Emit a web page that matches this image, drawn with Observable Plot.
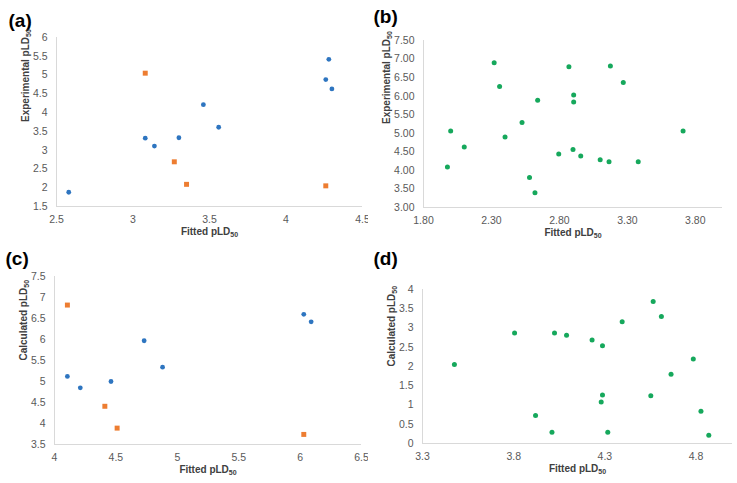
<!DOCTYPE html>
<html>
<head>
<meta charset="utf-8">
<script src="https://cdn.jsdelivr.net/npm/d3@7"></script>
<script src="https://cdn.jsdelivr.net/npm/@observablehq/plot@0.6"></script>
<style>
  html, body { margin: 0; padding: 0; background: #fff; }
  #wrap { position: relative; width: 737px; height: 483px; background: #fff; overflow: hidden; }
  #wrap > svg { position: absolute; }
</style>
</head>
<body>
<div id="wrap"></div>
<script>
// ---------- Panel (a) ----------
const aFitBlue    = [2.58, 3.08, 3.14, 3.30, 3.46, 3.56, 4.26, 4.28, 4.30];
const aExpBlue    = [1.88, 3.32, 3.11, 3.33, 4.21, 3.61, 4.88, 5.42, 4.63];
const aFitOrange  = [3.08, 3.27, 3.35, 4.26];
const aExpOrange  = [5.05, 2.69, 2.09, 2.05];
const aXTicks = [2.5, 3, 3.5, 4, 4.5];
const aYTicks = [1.5, 2, 2.5, 3, 3.5, 4, 4.5, 5, 5.5, 6];

// ---------- Panel (b) ----------
const bFit = [2.32, 2.36, 2.40, 2.525, 2.64, 2.58, 2.62, 2.00, 1.976, 2.10, 2.795,
              2.87, 2.905, 2.905, 2.90, 2.957, 3.10, 3.165, 3.175, 3.27, 3.38, 3.71];
const bExp = [6.90, 6.26, 4.90, 5.29, 5.89, 3.81, 3.40, 5.06, 4.09, 4.63, 4.44,
              6.79, 6.03, 5.84, 4.56, 4.39, 4.29, 4.23, 6.81, 6.37, 4.23, 5.06];
const bXTicks = [1.8, 2.3, 2.8, 3.3, 3.8];
const bYTicks = [3, 3.5, 4, 4.5, 5, 5.5, 6, 6.5, 7, 7.5];

// ---------- Panel (c) ----------
const cFitBlue    = [4.105, 4.21, 4.46, 4.73, 4.88, 6.03, 6.09];
const cCalcBlue   = [5.12, 4.85, 5.00, 5.97, 5.34, 6.60, 6.42];
const cFitOrange  = [4.105, 4.41, 4.51, 6.03];
const cCalcOrange = [6.82, 4.41, 3.89, 3.74];
const cXTicks = [4, 4.5, 5, 5.5, 6, 6.5];
const cYTicks = [3.5, 4, 4.5, 5, 5.5, 6, 6.5, 7, 7.5];

// ---------- Panel (d) ----------
const dFit  = [3.475, 3.805, 3.92, 4.01, 4.024, 4.09, 4.23, 4.287, 4.287, 4.28,
               4.316, 4.395, 4.552, 4.565, 4.61, 4.663, 4.785, 4.827, 4.87];
const dCalc = [2.05, 2.87, 0.73, 0.295, 2.87, 2.81, 2.69, 2.54, 1.26, 1.08,
               0.295, 3.16, 1.24, 3.69, 3.30, 1.80, 2.195, 0.84, 0.217];
const dXTicks = [3.3, 3.8, 4.3, 4.8];
const dYTicks = [0, 0.5, 1, 1.5, 2, 2.5, 3, 3.5, 4];

const panelLabels = ["(a)", "(b)", "(c)", "(d)"];
const xTitle = "Fitted pLD50";
const yTitles = ["Experimental pLD50", "Experimental pLD50", "Calculated pLD50", "Calculated pLD50"];

const FONT = "'Liberation Sans', Arial, Helvetica, sans-serif";
const BLUE = "#2e75c0", ORANGE = "#ed7d31", GREEN = "#16a85c", AXIS = "#d9d9d9";

const zip = (xs, ys) => xs.map((x, i) => ({x, y: ys[i]}));

function panel(o) {
  const marks = [
    Plot.ruleY([o.yDomain[0]], {stroke: AXIS, strokeWidth: 1}),
    Plot.ruleX([o.xDomain[0]], {stroke: AXIS, strokeWidth: 1}),
    Plot.axisX(o.xTicks, {tickSize: 0, tickPadding: 9, tickFormat: o.fmt, label: null}),
    Plot.axisY(o.yTicks, {tickSize: 0, tickPadding: 9, tickFormat: o.fmt, label: null}),
  ];
  for (const s of o.series) {
    marks.push(Plot.dot(s.data, {x: "x", y: "y", symbol: s.symbol, r: s.r, fill: s.color, stroke: null}));
  }
  marks.push(
    Plot.text([o.label], {text: d => d, frameAnchor: "top-left", textAnchor: "start", lineAnchor: "top",
      dx: o.labelPos[0] - o.m[3], dy: o.labelPos[1] - o.m[0], fontSize: 19, fontWeight: "bold", fill: "#000"}),
    Plot.text([xTitle], {text: d => d, frameAnchor: "bottom", dy: o.xTitleOff,
      fontSize: 10, fontWeight: "bold", fill: "#404040"}),
    Plot.text([o.yTitle], {text: d => d, frameAnchor: "left", rotate: -90, dx: -o.yTitleOff,
      fontSize: 10, fontWeight: "bold", fill: "#404040"})
  );
  const svg = Plot.plot({
    width: o.w, height: o.h,
    marginTop: o.m[0], marginRight: o.m[1], marginBottom: o.m[2], marginLeft: o.m[3],
    x: {domain: o.xDomain, axis: null},
    y: {domain: o.yDomain, axis: null},
    style: {fontFamily: FONT, fontSize: "10.5px", color: "#595959", background: "white", overflow: "visible"},
    marks
  });
  // subscript "50" in pLD50
  d3.select(svg).selectAll("text").each(function() {
    const t = this.textContent;
    if (t.endsWith("pLD50") && this.childElementCount === 0) {
      const base = t.slice(0, -2);
      this.textContent = "";
      d3.select(this).append("tspan").text(base);
      d3.select(this).append("tspan").attr("font-size", 7).attr("dy", 2).text("50");
    }
  });
  svg.style.left = o.left + "px";
  svg.style.top = o.top + "px";
  document.getElementById("wrap").appendChild(svg);
}

panel({
  left: 0, top: 0, w: 368, h: 240, m: [37, 6, 34, 56],
  xDomain: [2.5, 4.5], yDomain: [1.5, 6], xTicks: aXTicks, yTicks: aYTicks, fmt: d3.format(""),
  series: [
    {data: zip(aFitBlue, aExpBlue), symbol: "circle", r: 2.4, color: BLUE},
    {data: zip(aFitOrange, aExpOrange), symbol: "square", r: 2.8, color: ORANGE}
  ],
  label: panelLabels[0], labelPos: [8, 13], yTitle: yTitles[0], xTitleOff: 28, yTitleOff: 31
});

panel({
  left: 368, top: 0, w: 369, h: 240, m: [40, 15, 33, 55],
  xDomain: [1.8, 4.0], yDomain: [3, 7.5], xTicks: bXTicks, yTicks: bYTicks, fmt: d3.format(".2f"),
  series: [
    {data: zip(bFit, bExp), symbol: "circle", r: 2.5, color: GREEN}
  ],
  label: panelLabels[1], labelPos: [5, 9], yTitle: yTitles[1], xTitleOff: 28, yTitleOff: 37
});

panel({
  left: 0, top: 240, w: 368, h: 243, m: [36, 7, 39, 54],
  xDomain: [4, 6.5], yDomain: [3.5, 7.5], xTicks: cXTicks, yTicks: cYTicks, fmt: d3.format(""),
  series: [
    {data: zip(cFitBlue, cCalcBlue), symbol: "circle", r: 2.4, color: BLUE},
    {data: zip(cFitOrange, cCalcOrange), symbol: "square", r: 2.8, color: ORANGE}
  ],
  label: panelLabels[2], labelPos: [5, 11], yTitle: yTitles[2], xTitleOff: 28, yTitleOff: 31
});

panel({
  left: 368, top: 240, w: 369, h: 243, m: [49, 5, 40, 54],
  xDomain: [3.3, 5.0], yDomain: [0, 4], xTicks: dXTicks, yTicks: dYTicks, fmt: d3.format(""),
  series: [
    {data: zip(dFit, dCalc), symbol: "circle", r: 2.5, color: GREEN}
  ],
  label: panelLabels[3], labelPos: [5, 11], yTitle: yTitles[3], xTitleOff: 28, yTitleOff: 31
});
</script>
</body>
</html>
